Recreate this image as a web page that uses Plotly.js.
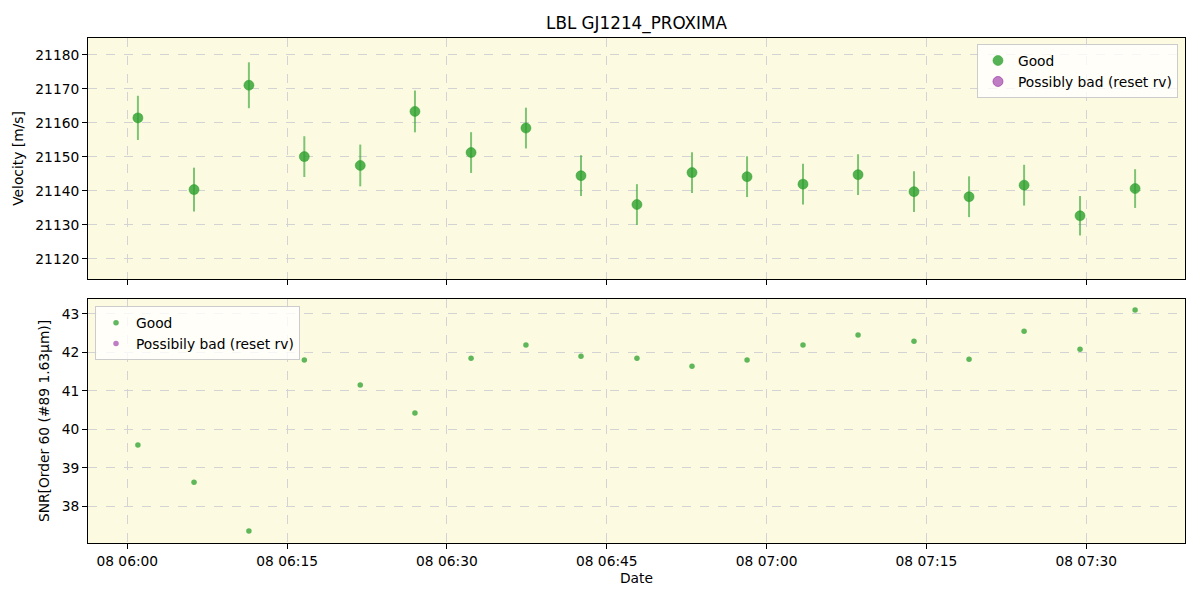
<!DOCTYPE html>
<html>
<head>
<meta charset="utf-8">
<script src="https://cdn.plot.ly/plotly-3.0.1.min.js"></script>
<style>html,body{margin:0;padding:0;background:#fff}#chart{width:1200px;height:600px}</style>
</head>
<body>
<div id="chart"></div>
<script>
const times = [
  "2023-06-08 06:01:00","2023-06-08 06:06:16","2023-06-08 06:11:25","2023-06-08 06:16:37",
  "2023-06-08 06:21:52","2023-06-08 06:27:00","2023-06-08 06:32:16","2023-06-08 06:37:25",
  "2023-06-08 06:42:35","2023-06-08 06:47:50","2023-06-08 06:53:00","2023-06-08 06:58:10",
  "2023-06-08 07:03:25","2023-06-08 07:08:35","2023-06-08 07:13:50","2023-06-08 07:19:00",
  "2023-06-08 07:24:10","2023-06-08 07:29:25","2023-06-08 07:34:35"
];
const velocity = [21161.5,21140.4,21171.1,21150.1,21147.5,21163.4,21151.3,21158.5,21144.5,21136.0,
  21145.4,21144.2,21142.0,21144.8,21139.8,21138.3,21141.7,21132.7,21140.7];
const velocityErr = [6.5,6.45,6.75,6.0,6.15,6.15,6.0,6.0,6.0,6.0,6.0,6.0,6.0,6.0,6.0,6.0,6.0,5.8,5.7];
const snr = [39.59,38.62,37.35,41.80,41.15,40.42,41.85,42.19,41.90,41.85,41.64,41.80,42.19,42.45,
  42.29,41.82,42.55,42.08,43.10];
// no "possibly bad" points in this dataset
const badTimes = [null];
const badVelocity = [null];
const badSnr = [null];

const green = 'rgba(44,160,44,0.6)';
const greenMarker = 'rgba(44,160,44,0.8)';
const purple = 'rgba(148,40,160,0.6)';
const font = {family: 'DejaVu Sans, sans-serif', size: 13.8, color: '#000'};

const traces = [
  {x: times, y: velocity, type: 'scatter', mode: 'markers', name: 'Good',
   error_y: {type: 'data', array: velocityErr, visible: true, color: green, thickness: 2, width: 0},
   marker: {color: greenMarker, size: 10, line: {color: 'rgba(44,160,44,0.5)', width: 1}},
   xaxis: 'x', yaxis: 'y', legend: 'legend'},
  {x: badTimes, y: badVelocity, type: 'scatter', mode: 'markers', name: 'Possibly bad (reset rv)',
   marker: {color: purple, size: 10, line: {color: purple, width: 1}},
   xaxis: 'x', yaxis: 'y', legend: 'legend'},
  {x: times, y: snr, type: 'scatter', mode: 'markers', name: 'Good',
   marker: {color: 'rgba(44,160,44,0.75)', size: 5.5},
   xaxis: 'x2', yaxis: 'y2', legend: 'legend2'},
  {x: badTimes, y: badSnr, type: 'scatter', mode: 'markers', name: 'Possibily bad (reset rv)',
   marker: {color: purple, size: 5.5},
   xaxis: 'x2', yaxis: 'y2', legend: 'legend2'}
];

const xRange = ['2023-06-08 05:56:19', '2023-06-08 07:39:16'];
const gridStyle = {showgrid: true, gridcolor: '#d3d3d3', griddash: 'dash', gridwidth: 1};
const axisStyle = Object.assign({
  showline: true, linecolor: '#000', linewidth: 1, mirror: true,
  ticks: 'outside', ticklen: 5, tickcolor: '#000', zeroline: false, tickfont: font
}, gridStyle);

const layout = {
  width: 1200, height: 600,
  margin: {l: 88, r: 15, t: 38, b: 57},
  paper_bgcolor: '#fff', plot_bgcolor: '#fcfbe2',
  font: font,
  title: {text: 'LBL GJ1214_PROXIMA', font: {family: 'DejaVu Sans, sans-serif', size: 16.8, color: '#000'},
          xref: 'paper', x: 0.5, xanchor: 'center', yref: 'container', y: 0.962, yanchor: 'middle'},
  xaxis: Object.assign({}, axisStyle, {type: 'date', range: xRange, anchor: 'y', showticklabels: false,
          dtick: 15*60*1000, tick0: '2023-06-08 06:00:00', tickformat: '%d %H:%M'}),
  yaxis: Object.assign({}, axisStyle, {domain: [0.5228, 1], range: [21114.1, 21185.0], dtick: 10,
          tickformat: 'd', title: {text: 'Velocity [m/s]', font: font, standoff: 8}}),
  xaxis2: Object.assign({}, axisStyle, {type: 'date', range: xRange, anchor: 'y2', matches: 'x',
          dtick: 15*60*1000, tick0: '2023-06-08 06:00:00', tickformat: '%d %H:%M',
          title: {text: 'Date', font: font, standoff: 5}}),
  yaxis2: Object.assign({}, axisStyle, {domain: [0, 0.4832], range: [37.04, 43.39], dtick: 1,
          title: {text: 'SNR[Order 60 (#89 1.63μm)]', font: font, standoff: 8}}),
  legend: {x: 0.9936, y: 0.988, xanchor: 'right', yanchor: 'top', bgcolor: 'rgba(255,255,255,0.8)',
           bordercolor: '#cccccc', borderwidth: 1, font: font, tracegroupgap: 0},
  legend2: {x: 0.0064, y: 0.469, xanchor: 'left', yanchor: 'top', bgcolor: 'rgba(255,255,255,0.8)',
           bordercolor: '#cccccc', borderwidth: 1, font: font, tracegroupgap: 0},
  showlegend: true
};

Plotly.newPlot('chart', traces, layout, {displayModeBar: false, staticPlot: true});
</script>
</body>
</html>
